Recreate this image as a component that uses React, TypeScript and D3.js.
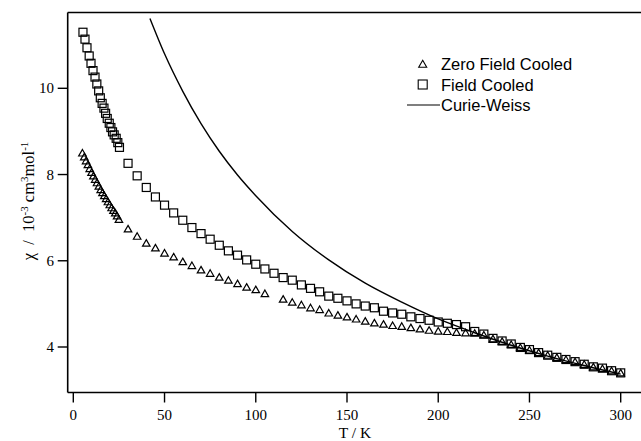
import * as d3 from 'd3';
import React from 'react';

// field cooled (squares)
const fcTemps = [5.3, 6.4, 7.5, 8.7, 9.7, 10.8, 11.9, 12.9, 13.9, 14.8, 15.8, 16.8, 17.7, 18.6, 19.7, 20.6, 21.5, 22.4, 23.5, 24.4, 25.3,
  30, 35, 40, 45, 50, 55, 60, 65, 70, 75, 80, 85, 90, 95, 100, 105, 110, 115, 120, 125, 130, 135, 140, 145, 150,
  155, 160, 165, 170, 175, 180, 185, 190, 195, 200, 205, 210, 215, 220, 225, 230, 235, 240, 245, 250,
  255, 260, 265, 270, 275, 280, 285, 290, 295, 300];
const fcChi = [11.30, 11.14, 10.94, 10.75, 10.58, 10.41, 10.26, 10.10, 9.94, 9.78, 9.65, 9.54, 9.42, 9.30, 9.19, 9.09, 8.99, 8.92, 8.84, 8.74, 8.63,
  8.26, 7.97, 7.70, 7.48, 7.29, 7.11, 6.94, 6.77, 6.63, 6.50, 6.36, 6.23, 6.13, 6.02, 5.92, 5.81, 5.71, 5.61, 5.55, 5.44, 5.36, 5.28, 5.18, 5.13, 5.07,
  5.00, 4.95, 4.91, 4.83, 4.79, 4.76, 4.70, 4.66, 4.62, 4.58, 4.55, 4.52, 4.47, 4.36, 4.30, 4.20, 4.14, 4.07, 3.99, 3.94,
  3.87, 3.81, 3.76, 3.71, 3.66, 3.60, 3.54, 3.51, 3.45, 3.40];

// zero field cooled (triangles)
const zfcTemps = [5, 6, 7, 8, 9, 10, 11, 12, 13, 14, 15, 16, 17, 18, 19, 20, 21, 22, 23, 24, 25,
  30, 35, 40, 45, 50, 55, 60, 65, 70, 75, 80, 85, 90, 95, 100, 105, 115, 120, 125, 130, 135, 140, 145, 150,
  155, 160, 165, 170, 175, 180, 185, 190, 195, 200, 205, 210, 215, 220, 225, 230, 235, 240, 245, 250,
  255, 260, 265, 270, 275, 280, 285, 290, 295, 300];
const zfcChi = [8.49, 8.40, 8.31, 8.22, 8.13, 8.04, 7.96, 7.88, 7.80, 7.72, 7.64, 7.57, 7.50, 7.43, 7.36, 7.29, 7.22, 7.16, 7.10, 7.03, 6.95,
  6.73, 6.56, 6.40, 6.29, 6.17, 6.08, 5.97, 5.88, 5.78, 5.70, 5.61, 5.54, 5.46, 5.38, 5.32, 5.23, 5.10, 5.03, 4.97, 4.90, 4.86, 4.78, 4.73, 4.69,
  4.64, 4.59, 4.55, 4.52, 4.49, 4.47, 4.44, 4.41, 4.38, 4.36, 4.35, 4.33, 4.32, 4.31, 4.27, 4.18, 4.12, 4.05, 3.98, 3.92,
  3.86, 3.80, 3.75, 3.70, 3.65, 3.59, 3.53, 3.49, 3.44, 3.39];

// Curie-Weiss curve
const cwTemps = [42, 50, 60, 70, 80, 90, 100, 120, 140, 160, 180, 200, 220, 240, 260, 280, 300];
const cwChi = [11.62, 10.80, 9.93, 9.18, 8.54, 7.99, 7.51, 6.68, 6.02, 5.48, 5.04, 4.65, 4.33, 4.04, 3.79, 3.57, 3.37];

const xTicks = [0, 50, 100, 150, 200, 250, 300];
const yTicks = [4, 6, 8, 10];

const W = 641, H = 441;
const left = 67.7, top = 12.5, bottom = 392.5;

const x = d3.scaleLinear().domain([0, 300]).range([73.3, 620.7]);
const y = d3.scaleLinear().domain([4, 10]).range([347, 88.3]);

const serif = '"Liberation Serif", "Times New Roman", serif';
const sans = '"Liberation Sans", Arial, sans-serif';

const tri = (cx, cy, s = 7.5) => {
  const h = s * 0.87;
  return `M${cx},${cy - h * 0.6}L${cx + s / 2},${cy + h * 0.4}L${cx - s / 2},${cy + h * 0.4}Z`;
};

export default function App() {
  const cwLine = d3.line<number>()
    .x((d, i) => x(cwTemps[i]))
    .y((d) => y(d))
    .curve(d3.curveMonotoneX)(cwChi);

  return (
    <svg width={W} height={H} style={{ position: 'absolute', left: 0, top: 0, background: '#fff' }}>
      {/* frame */}
      <line x1={left} x2={W} y1={top} y2={top} stroke="#000" strokeWidth={1.3} />
      <line x1={left} x2={left} y1={top} y2={bottom} stroke="#000" strokeWidth={1.6} />
      <line x1={left} x2={W} y1={bottom} y2={bottom} stroke="#000" strokeWidth={1.6} />

      {xTicks.map((t) => (
        <g key={'x' + t}>
          <line x1={x(t)} x2={x(t)} y1={bottom} y2={bottom + 10} stroke="#000" strokeWidth={1.4} />
          <text x={x(t)} y={420} textAnchor="middle" fontFamily={serif} fontSize={15}>{t}</text>
        </g>
      ))}
      {yTicks.map((t) => (
        <g key={'y' + t}>
          <line x1={left - 10} x2={left} y1={y(t)} y2={y(t)} stroke="#000" strokeWidth={1.4} />
          <text x={54} y={y(t) + 5} textAnchor="end" fontFamily={serif} fontSize={15}>{t}</text>
        </g>
      ))}

      <text x={355} y={437.5} textAnchor="middle" fontFamily={serif} fontSize={15.5}>T / K</text>
      <text transform="translate(34,201) rotate(-90)" textAnchor="middle" fontFamily={serif} fontSize={16.5} xmlSpace="preserve">
        χ  /  10<tspan dy={-6.5} fontSize={11}>-3</tspan><tspan dy={6.5}> cm</tspan><tspan dy={-6.5} fontSize={11}>3</tspan><tspan dy={6.5}>mol</tspan><tspan dy={-6.5} fontSize={11}>-1</tspan>
      </text>

      <path d={cwLine} fill="none" stroke="#000" strokeWidth={1.4} />

      {zfcChi.map((v, i) => (
        <path key={'z' + i} d={tri(x(zfcTemps[i]), y(v))} fill="none" stroke="#000" strokeWidth={1.2} />
      ))}
      {fcChi.map((v, i) => (
        <rect key={'f' + i} x={x(fcTemps[i]) - 4} y={y(v) - 4} width={8} height={8} fill="none" stroke="#000" strokeWidth={1.2} />
      ))}

      {/* legend */}
      <path d={tri(422.7, 64.5, 8)} fill="none" stroke="#000" strokeWidth={1.1} />
      <text x={441} y={70} fontFamily={sans} fontSize={16.5}>Zero Field Cooled</text>
      <rect x={418.2} y={80} width={9} height={9} fill="none" stroke="#000" strokeWidth={1.1} />
      <text x={441} y={90.5} fontFamily={sans} fontSize={16.5}>Field Cooled</text>
      <line x1={407} x2={440} y1={105} y2={105} stroke="#000" strokeWidth={1.1} />
      <text x={441} y={111} fontFamily={sans} fontSize={16.5}>Curie-Weiss</text>
    </svg>
  );
}
